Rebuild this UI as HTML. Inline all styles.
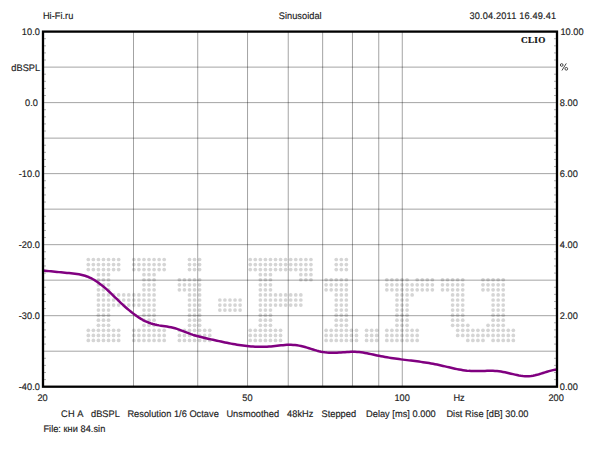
<!DOCTYPE html>
<html><head><meta charset="utf-8"><style>
html,body{margin:0;padding:0;background:#fff;width:600px;height:450px;overflow:hidden}
svg{display:block}
text{font-family:"Liberation Sans",sans-serif;font-size:9.6px;fill:#222;stroke:#222;stroke-width:0.15px}
</style></head><body>
<svg width="600" height="450" viewBox="0 0 600 450">
<rect width="600" height="450" fill="#fff"/>
<g fill="#d5d5d5"><circle cx="88.30" cy="259.50" r="1.85"/><circle cx="93.36" cy="259.50" r="1.85"/><circle cx="98.42" cy="259.50" r="1.85"/><circle cx="103.48" cy="259.50" r="1.85"/><circle cx="108.54" cy="259.50" r="1.85"/><circle cx="113.60" cy="259.50" r="1.85"/><circle cx="118.66" cy="259.50" r="1.85"/><circle cx="133.84" cy="259.50" r="1.85"/><circle cx="138.90" cy="259.50" r="1.85"/><circle cx="143.96" cy="259.50" r="1.85"/><circle cx="149.02" cy="259.50" r="1.85"/><circle cx="154.08" cy="259.50" r="1.85"/><circle cx="159.14" cy="259.50" r="1.85"/><circle cx="164.20" cy="259.50" r="1.85"/><circle cx="189.50" cy="259.50" r="1.85"/><circle cx="194.56" cy="259.50" r="1.85"/><circle cx="199.62" cy="259.50" r="1.85"/><circle cx="250.22" cy="259.50" r="1.85"/><circle cx="255.28" cy="259.50" r="1.85"/><circle cx="260.34" cy="259.50" r="1.85"/><circle cx="265.40" cy="259.50" r="1.85"/><circle cx="270.46" cy="259.50" r="1.85"/><circle cx="275.52" cy="259.50" r="1.85"/><circle cx="280.58" cy="259.50" r="1.85"/><circle cx="285.64" cy="259.50" r="1.85"/><circle cx="290.70" cy="259.50" r="1.85"/><circle cx="295.76" cy="259.50" r="1.85"/><circle cx="300.82" cy="259.50" r="1.85"/><circle cx="305.88" cy="259.50" r="1.85"/><circle cx="310.94" cy="259.50" r="1.85"/><circle cx="336.24" cy="259.50" r="1.85"/><circle cx="341.30" cy="259.50" r="1.85"/><circle cx="346.36" cy="259.50" r="1.85"/><circle cx="88.30" cy="264.56" r="1.85"/><circle cx="93.36" cy="264.56" r="1.85"/><circle cx="98.42" cy="264.56" r="1.85"/><circle cx="103.48" cy="264.56" r="1.85"/><circle cx="108.54" cy="264.56" r="1.85"/><circle cx="113.60" cy="264.56" r="1.85"/><circle cx="118.66" cy="264.56" r="1.85"/><circle cx="133.84" cy="264.56" r="1.85"/><circle cx="138.90" cy="264.56" r="1.85"/><circle cx="143.96" cy="264.56" r="1.85"/><circle cx="149.02" cy="264.56" r="1.85"/><circle cx="154.08" cy="264.56" r="1.85"/><circle cx="159.14" cy="264.56" r="1.85"/><circle cx="164.20" cy="264.56" r="1.85"/><circle cx="189.50" cy="264.56" r="1.85"/><circle cx="194.56" cy="264.56" r="1.85"/><circle cx="199.62" cy="264.56" r="1.85"/><circle cx="250.22" cy="264.56" r="1.85"/><circle cx="255.28" cy="264.56" r="1.85"/><circle cx="260.34" cy="264.56" r="1.85"/><circle cx="265.40" cy="264.56" r="1.85"/><circle cx="270.46" cy="264.56" r="1.85"/><circle cx="275.52" cy="264.56" r="1.85"/><circle cx="280.58" cy="264.56" r="1.85"/><circle cx="285.64" cy="264.56" r="1.85"/><circle cx="290.70" cy="264.56" r="1.85"/><circle cx="295.76" cy="264.56" r="1.85"/><circle cx="300.82" cy="264.56" r="1.85"/><circle cx="305.88" cy="264.56" r="1.85"/><circle cx="310.94" cy="264.56" r="1.85"/><circle cx="336.24" cy="264.56" r="1.85"/><circle cx="341.30" cy="264.56" r="1.85"/><circle cx="346.36" cy="264.56" r="1.85"/><circle cx="88.30" cy="269.62" r="1.85"/><circle cx="93.36" cy="269.62" r="1.85"/><circle cx="98.42" cy="269.62" r="1.85"/><circle cx="103.48" cy="269.62" r="1.85"/><circle cx="108.54" cy="269.62" r="1.85"/><circle cx="113.60" cy="269.62" r="1.85"/><circle cx="118.66" cy="269.62" r="1.85"/><circle cx="133.84" cy="269.62" r="1.85"/><circle cx="138.90" cy="269.62" r="1.85"/><circle cx="143.96" cy="269.62" r="1.85"/><circle cx="149.02" cy="269.62" r="1.85"/><circle cx="154.08" cy="269.62" r="1.85"/><circle cx="159.14" cy="269.62" r="1.85"/><circle cx="164.20" cy="269.62" r="1.85"/><circle cx="189.50" cy="269.62" r="1.85"/><circle cx="194.56" cy="269.62" r="1.85"/><circle cx="199.62" cy="269.62" r="1.85"/><circle cx="250.22" cy="269.62" r="1.85"/><circle cx="255.28" cy="269.62" r="1.85"/><circle cx="260.34" cy="269.62" r="1.85"/><circle cx="265.40" cy="269.62" r="1.85"/><circle cx="270.46" cy="269.62" r="1.85"/><circle cx="275.52" cy="269.62" r="1.85"/><circle cx="280.58" cy="269.62" r="1.85"/><circle cx="285.64" cy="269.62" r="1.85"/><circle cx="290.70" cy="269.62" r="1.85"/><circle cx="295.76" cy="269.62" r="1.85"/><circle cx="300.82" cy="269.62" r="1.85"/><circle cx="305.88" cy="269.62" r="1.85"/><circle cx="310.94" cy="269.62" r="1.85"/><circle cx="336.24" cy="269.62" r="1.85"/><circle cx="341.30" cy="269.62" r="1.85"/><circle cx="346.36" cy="269.62" r="1.85"/><circle cx="98.42" cy="274.68" r="1.85"/><circle cx="103.48" cy="274.68" r="1.85"/><circle cx="108.54" cy="274.68" r="1.85"/><circle cx="143.96" cy="274.68" r="1.85"/><circle cx="149.02" cy="274.68" r="1.85"/><circle cx="154.08" cy="274.68" r="1.85"/><circle cx="260.34" cy="274.68" r="1.85"/><circle cx="265.40" cy="274.68" r="1.85"/><circle cx="270.46" cy="274.68" r="1.85"/><circle cx="300.82" cy="274.68" r="1.85"/><circle cx="305.88" cy="274.68" r="1.85"/><circle cx="310.94" cy="274.68" r="1.85"/><circle cx="98.42" cy="279.74" r="1.85"/><circle cx="103.48" cy="279.74" r="1.85"/><circle cx="108.54" cy="279.74" r="1.85"/><circle cx="143.96" cy="279.74" r="1.85"/><circle cx="149.02" cy="279.74" r="1.85"/><circle cx="154.08" cy="279.74" r="1.85"/><circle cx="179.38" cy="279.74" r="1.85"/><circle cx="184.44" cy="279.74" r="1.85"/><circle cx="189.50" cy="279.74" r="1.85"/><circle cx="194.56" cy="279.74" r="1.85"/><circle cx="199.62" cy="279.74" r="1.85"/><circle cx="260.34" cy="279.74" r="1.85"/><circle cx="265.40" cy="279.74" r="1.85"/><circle cx="270.46" cy="279.74" r="1.85"/><circle cx="300.82" cy="279.74" r="1.85"/><circle cx="305.88" cy="279.74" r="1.85"/><circle cx="310.94" cy="279.74" r="1.85"/><circle cx="326.12" cy="279.74" r="1.85"/><circle cx="331.18" cy="279.74" r="1.85"/><circle cx="336.24" cy="279.74" r="1.85"/><circle cx="341.30" cy="279.74" r="1.85"/><circle cx="346.36" cy="279.74" r="1.85"/><circle cx="386.84" cy="279.74" r="1.85"/><circle cx="391.90" cy="279.74" r="1.85"/><circle cx="396.96" cy="279.74" r="1.85"/><circle cx="402.02" cy="279.74" r="1.85"/><circle cx="407.08" cy="279.74" r="1.85"/><circle cx="417.20" cy="279.74" r="1.85"/><circle cx="422.26" cy="279.74" r="1.85"/><circle cx="427.32" cy="279.74" r="1.85"/><circle cx="432.38" cy="279.74" r="1.85"/><circle cx="442.50" cy="279.74" r="1.85"/><circle cx="447.56" cy="279.74" r="1.85"/><circle cx="452.62" cy="279.74" r="1.85"/><circle cx="457.68" cy="279.74" r="1.85"/><circle cx="462.74" cy="279.74" r="1.85"/><circle cx="482.98" cy="279.74" r="1.85"/><circle cx="488.04" cy="279.74" r="1.85"/><circle cx="493.10" cy="279.74" r="1.85"/><circle cx="498.16" cy="279.74" r="1.85"/><circle cx="503.22" cy="279.74" r="1.85"/><circle cx="98.42" cy="284.80" r="1.85"/><circle cx="103.48" cy="284.80" r="1.85"/><circle cx="108.54" cy="284.80" r="1.85"/><circle cx="143.96" cy="284.80" r="1.85"/><circle cx="149.02" cy="284.80" r="1.85"/><circle cx="154.08" cy="284.80" r="1.85"/><circle cx="179.38" cy="284.80" r="1.85"/><circle cx="184.44" cy="284.80" r="1.85"/><circle cx="189.50" cy="284.80" r="1.85"/><circle cx="194.56" cy="284.80" r="1.85"/><circle cx="199.62" cy="284.80" r="1.85"/><circle cx="260.34" cy="284.80" r="1.85"/><circle cx="265.40" cy="284.80" r="1.85"/><circle cx="270.46" cy="284.80" r="1.85"/><circle cx="326.12" cy="284.80" r="1.85"/><circle cx="331.18" cy="284.80" r="1.85"/><circle cx="336.24" cy="284.80" r="1.85"/><circle cx="341.30" cy="284.80" r="1.85"/><circle cx="346.36" cy="284.80" r="1.85"/><circle cx="386.84" cy="284.80" r="1.85"/><circle cx="391.90" cy="284.80" r="1.85"/><circle cx="396.96" cy="284.80" r="1.85"/><circle cx="402.02" cy="284.80" r="1.85"/><circle cx="407.08" cy="284.80" r="1.85"/><circle cx="412.14" cy="284.80" r="1.85"/><circle cx="417.20" cy="284.80" r="1.85"/><circle cx="422.26" cy="284.80" r="1.85"/><circle cx="427.32" cy="284.80" r="1.85"/><circle cx="432.38" cy="284.80" r="1.85"/><circle cx="442.50" cy="284.80" r="1.85"/><circle cx="447.56" cy="284.80" r="1.85"/><circle cx="452.62" cy="284.80" r="1.85"/><circle cx="457.68" cy="284.80" r="1.85"/><circle cx="462.74" cy="284.80" r="1.85"/><circle cx="482.98" cy="284.80" r="1.85"/><circle cx="488.04" cy="284.80" r="1.85"/><circle cx="493.10" cy="284.80" r="1.85"/><circle cx="498.16" cy="284.80" r="1.85"/><circle cx="503.22" cy="284.80" r="1.85"/><circle cx="98.42" cy="289.86" r="1.85"/><circle cx="103.48" cy="289.86" r="1.85"/><circle cx="108.54" cy="289.86" r="1.85"/><circle cx="143.96" cy="289.86" r="1.85"/><circle cx="149.02" cy="289.86" r="1.85"/><circle cx="154.08" cy="289.86" r="1.85"/><circle cx="179.38" cy="289.86" r="1.85"/><circle cx="184.44" cy="289.86" r="1.85"/><circle cx="189.50" cy="289.86" r="1.85"/><circle cx="194.56" cy="289.86" r="1.85"/><circle cx="199.62" cy="289.86" r="1.85"/><circle cx="260.34" cy="289.86" r="1.85"/><circle cx="265.40" cy="289.86" r="1.85"/><circle cx="270.46" cy="289.86" r="1.85"/><circle cx="326.12" cy="289.86" r="1.85"/><circle cx="331.18" cy="289.86" r="1.85"/><circle cx="336.24" cy="289.86" r="1.85"/><circle cx="341.30" cy="289.86" r="1.85"/><circle cx="346.36" cy="289.86" r="1.85"/><circle cx="386.84" cy="289.86" r="1.85"/><circle cx="391.90" cy="289.86" r="1.85"/><circle cx="396.96" cy="289.86" r="1.85"/><circle cx="402.02" cy="289.86" r="1.85"/><circle cx="407.08" cy="289.86" r="1.85"/><circle cx="412.14" cy="289.86" r="1.85"/><circle cx="417.20" cy="289.86" r="1.85"/><circle cx="422.26" cy="289.86" r="1.85"/><circle cx="427.32" cy="289.86" r="1.85"/><circle cx="432.38" cy="289.86" r="1.85"/><circle cx="442.50" cy="289.86" r="1.85"/><circle cx="447.56" cy="289.86" r="1.85"/><circle cx="452.62" cy="289.86" r="1.85"/><circle cx="457.68" cy="289.86" r="1.85"/><circle cx="462.74" cy="289.86" r="1.85"/><circle cx="482.98" cy="289.86" r="1.85"/><circle cx="488.04" cy="289.86" r="1.85"/><circle cx="493.10" cy="289.86" r="1.85"/><circle cx="498.16" cy="289.86" r="1.85"/><circle cx="503.22" cy="289.86" r="1.85"/><circle cx="98.42" cy="294.92" r="1.85"/><circle cx="103.48" cy="294.92" r="1.85"/><circle cx="108.54" cy="294.92" r="1.85"/><circle cx="113.60" cy="294.92" r="1.85"/><circle cx="118.66" cy="294.92" r="1.85"/><circle cx="123.72" cy="294.92" r="1.85"/><circle cx="128.78" cy="294.92" r="1.85"/><circle cx="133.84" cy="294.92" r="1.85"/><circle cx="138.90" cy="294.92" r="1.85"/><circle cx="143.96" cy="294.92" r="1.85"/><circle cx="149.02" cy="294.92" r="1.85"/><circle cx="154.08" cy="294.92" r="1.85"/><circle cx="189.50" cy="294.92" r="1.85"/><circle cx="194.56" cy="294.92" r="1.85"/><circle cx="199.62" cy="294.92" r="1.85"/><circle cx="260.34" cy="294.92" r="1.85"/><circle cx="265.40" cy="294.92" r="1.85"/><circle cx="270.46" cy="294.92" r="1.85"/><circle cx="275.52" cy="294.92" r="1.85"/><circle cx="280.58" cy="294.92" r="1.85"/><circle cx="285.64" cy="294.92" r="1.85"/><circle cx="290.70" cy="294.92" r="1.85"/><circle cx="295.76" cy="294.92" r="1.85"/><circle cx="300.82" cy="294.92" r="1.85"/><circle cx="336.24" cy="294.92" r="1.85"/><circle cx="341.30" cy="294.92" r="1.85"/><circle cx="346.36" cy="294.92" r="1.85"/><circle cx="396.96" cy="294.92" r="1.85"/><circle cx="402.02" cy="294.92" r="1.85"/><circle cx="407.08" cy="294.92" r="1.85"/><circle cx="412.14" cy="294.92" r="1.85"/><circle cx="452.62" cy="294.92" r="1.85"/><circle cx="457.68" cy="294.92" r="1.85"/><circle cx="462.74" cy="294.92" r="1.85"/><circle cx="493.10" cy="294.92" r="1.85"/><circle cx="498.16" cy="294.92" r="1.85"/><circle cx="503.22" cy="294.92" r="1.85"/><circle cx="98.42" cy="299.98" r="1.85"/><circle cx="103.48" cy="299.98" r="1.85"/><circle cx="108.54" cy="299.98" r="1.85"/><circle cx="113.60" cy="299.98" r="1.85"/><circle cx="118.66" cy="299.98" r="1.85"/><circle cx="123.72" cy="299.98" r="1.85"/><circle cx="128.78" cy="299.98" r="1.85"/><circle cx="133.84" cy="299.98" r="1.85"/><circle cx="138.90" cy="299.98" r="1.85"/><circle cx="143.96" cy="299.98" r="1.85"/><circle cx="149.02" cy="299.98" r="1.85"/><circle cx="154.08" cy="299.98" r="1.85"/><circle cx="189.50" cy="299.98" r="1.85"/><circle cx="194.56" cy="299.98" r="1.85"/><circle cx="199.62" cy="299.98" r="1.85"/><circle cx="219.86" cy="299.98" r="1.85"/><circle cx="224.92" cy="299.98" r="1.85"/><circle cx="229.98" cy="299.98" r="1.85"/><circle cx="235.04" cy="299.98" r="1.85"/><circle cx="240.10" cy="299.98" r="1.85"/><circle cx="260.34" cy="299.98" r="1.85"/><circle cx="265.40" cy="299.98" r="1.85"/><circle cx="270.46" cy="299.98" r="1.85"/><circle cx="275.52" cy="299.98" r="1.85"/><circle cx="280.58" cy="299.98" r="1.85"/><circle cx="285.64" cy="299.98" r="1.85"/><circle cx="290.70" cy="299.98" r="1.85"/><circle cx="295.76" cy="299.98" r="1.85"/><circle cx="300.82" cy="299.98" r="1.85"/><circle cx="336.24" cy="299.98" r="1.85"/><circle cx="341.30" cy="299.98" r="1.85"/><circle cx="346.36" cy="299.98" r="1.85"/><circle cx="396.96" cy="299.98" r="1.85"/><circle cx="402.02" cy="299.98" r="1.85"/><circle cx="407.08" cy="299.98" r="1.85"/><circle cx="452.62" cy="299.98" r="1.85"/><circle cx="457.68" cy="299.98" r="1.85"/><circle cx="462.74" cy="299.98" r="1.85"/><circle cx="493.10" cy="299.98" r="1.85"/><circle cx="498.16" cy="299.98" r="1.85"/><circle cx="503.22" cy="299.98" r="1.85"/><circle cx="98.42" cy="305.04" r="1.85"/><circle cx="103.48" cy="305.04" r="1.85"/><circle cx="108.54" cy="305.04" r="1.85"/><circle cx="113.60" cy="305.04" r="1.85"/><circle cx="118.66" cy="305.04" r="1.85"/><circle cx="123.72" cy="305.04" r="1.85"/><circle cx="128.78" cy="305.04" r="1.85"/><circle cx="133.84" cy="305.04" r="1.85"/><circle cx="138.90" cy="305.04" r="1.85"/><circle cx="143.96" cy="305.04" r="1.85"/><circle cx="149.02" cy="305.04" r="1.85"/><circle cx="154.08" cy="305.04" r="1.85"/><circle cx="189.50" cy="305.04" r="1.85"/><circle cx="194.56" cy="305.04" r="1.85"/><circle cx="199.62" cy="305.04" r="1.85"/><circle cx="219.86" cy="305.04" r="1.85"/><circle cx="224.92" cy="305.04" r="1.85"/><circle cx="229.98" cy="305.04" r="1.85"/><circle cx="235.04" cy="305.04" r="1.85"/><circle cx="240.10" cy="305.04" r="1.85"/><circle cx="260.34" cy="305.04" r="1.85"/><circle cx="265.40" cy="305.04" r="1.85"/><circle cx="270.46" cy="305.04" r="1.85"/><circle cx="275.52" cy="305.04" r="1.85"/><circle cx="280.58" cy="305.04" r="1.85"/><circle cx="285.64" cy="305.04" r="1.85"/><circle cx="290.70" cy="305.04" r="1.85"/><circle cx="295.76" cy="305.04" r="1.85"/><circle cx="300.82" cy="305.04" r="1.85"/><circle cx="336.24" cy="305.04" r="1.85"/><circle cx="341.30" cy="305.04" r="1.85"/><circle cx="346.36" cy="305.04" r="1.85"/><circle cx="396.96" cy="305.04" r="1.85"/><circle cx="402.02" cy="305.04" r="1.85"/><circle cx="407.08" cy="305.04" r="1.85"/><circle cx="452.62" cy="305.04" r="1.85"/><circle cx="457.68" cy="305.04" r="1.85"/><circle cx="462.74" cy="305.04" r="1.85"/><circle cx="493.10" cy="305.04" r="1.85"/><circle cx="498.16" cy="305.04" r="1.85"/><circle cx="503.22" cy="305.04" r="1.85"/><circle cx="98.42" cy="310.10" r="1.85"/><circle cx="103.48" cy="310.10" r="1.85"/><circle cx="108.54" cy="310.10" r="1.85"/><circle cx="143.96" cy="310.10" r="1.85"/><circle cx="149.02" cy="310.10" r="1.85"/><circle cx="154.08" cy="310.10" r="1.85"/><circle cx="189.50" cy="310.10" r="1.85"/><circle cx="194.56" cy="310.10" r="1.85"/><circle cx="199.62" cy="310.10" r="1.85"/><circle cx="219.86" cy="310.10" r="1.85"/><circle cx="224.92" cy="310.10" r="1.85"/><circle cx="229.98" cy="310.10" r="1.85"/><circle cx="235.04" cy="310.10" r="1.85"/><circle cx="240.10" cy="310.10" r="1.85"/><circle cx="260.34" cy="310.10" r="1.85"/><circle cx="265.40" cy="310.10" r="1.85"/><circle cx="270.46" cy="310.10" r="1.85"/><circle cx="336.24" cy="310.10" r="1.85"/><circle cx="341.30" cy="310.10" r="1.85"/><circle cx="346.36" cy="310.10" r="1.85"/><circle cx="396.96" cy="310.10" r="1.85"/><circle cx="402.02" cy="310.10" r="1.85"/><circle cx="407.08" cy="310.10" r="1.85"/><circle cx="452.62" cy="310.10" r="1.85"/><circle cx="457.68" cy="310.10" r="1.85"/><circle cx="462.74" cy="310.10" r="1.85"/><circle cx="493.10" cy="310.10" r="1.85"/><circle cx="498.16" cy="310.10" r="1.85"/><circle cx="503.22" cy="310.10" r="1.85"/><circle cx="98.42" cy="315.16" r="1.85"/><circle cx="103.48" cy="315.16" r="1.85"/><circle cx="108.54" cy="315.16" r="1.85"/><circle cx="143.96" cy="315.16" r="1.85"/><circle cx="149.02" cy="315.16" r="1.85"/><circle cx="154.08" cy="315.16" r="1.85"/><circle cx="189.50" cy="315.16" r="1.85"/><circle cx="194.56" cy="315.16" r="1.85"/><circle cx="199.62" cy="315.16" r="1.85"/><circle cx="260.34" cy="315.16" r="1.85"/><circle cx="265.40" cy="315.16" r="1.85"/><circle cx="270.46" cy="315.16" r="1.85"/><circle cx="336.24" cy="315.16" r="1.85"/><circle cx="341.30" cy="315.16" r="1.85"/><circle cx="346.36" cy="315.16" r="1.85"/><circle cx="396.96" cy="315.16" r="1.85"/><circle cx="402.02" cy="315.16" r="1.85"/><circle cx="407.08" cy="315.16" r="1.85"/><circle cx="452.62" cy="315.16" r="1.85"/><circle cx="457.68" cy="315.16" r="1.85"/><circle cx="462.74" cy="315.16" r="1.85"/><circle cx="493.10" cy="315.16" r="1.85"/><circle cx="498.16" cy="315.16" r="1.85"/><circle cx="503.22" cy="315.16" r="1.85"/><circle cx="98.42" cy="320.22" r="1.85"/><circle cx="103.48" cy="320.22" r="1.85"/><circle cx="108.54" cy="320.22" r="1.85"/><circle cx="143.96" cy="320.22" r="1.85"/><circle cx="149.02" cy="320.22" r="1.85"/><circle cx="154.08" cy="320.22" r="1.85"/><circle cx="189.50" cy="320.22" r="1.85"/><circle cx="194.56" cy="320.22" r="1.85"/><circle cx="199.62" cy="320.22" r="1.85"/><circle cx="260.34" cy="320.22" r="1.85"/><circle cx="265.40" cy="320.22" r="1.85"/><circle cx="270.46" cy="320.22" r="1.85"/><circle cx="336.24" cy="320.22" r="1.85"/><circle cx="341.30" cy="320.22" r="1.85"/><circle cx="346.36" cy="320.22" r="1.85"/><circle cx="396.96" cy="320.22" r="1.85"/><circle cx="402.02" cy="320.22" r="1.85"/><circle cx="407.08" cy="320.22" r="1.85"/><circle cx="452.62" cy="320.22" r="1.85"/><circle cx="457.68" cy="320.22" r="1.85"/><circle cx="462.74" cy="320.22" r="1.85"/><circle cx="493.10" cy="320.22" r="1.85"/><circle cx="498.16" cy="320.22" r="1.85"/><circle cx="503.22" cy="320.22" r="1.85"/><circle cx="98.42" cy="325.28" r="1.85"/><circle cx="103.48" cy="325.28" r="1.85"/><circle cx="108.54" cy="325.28" r="1.85"/><circle cx="143.96" cy="325.28" r="1.85"/><circle cx="149.02" cy="325.28" r="1.85"/><circle cx="154.08" cy="325.28" r="1.85"/><circle cx="189.50" cy="325.28" r="1.85"/><circle cx="194.56" cy="325.28" r="1.85"/><circle cx="199.62" cy="325.28" r="1.85"/><circle cx="260.34" cy="325.28" r="1.85"/><circle cx="265.40" cy="325.28" r="1.85"/><circle cx="270.46" cy="325.28" r="1.85"/><circle cx="336.24" cy="325.28" r="1.85"/><circle cx="341.30" cy="325.28" r="1.85"/><circle cx="346.36" cy="325.28" r="1.85"/><circle cx="396.96" cy="325.28" r="1.85"/><circle cx="402.02" cy="325.28" r="1.85"/><circle cx="407.08" cy="325.28" r="1.85"/><circle cx="452.62" cy="325.28" r="1.85"/><circle cx="457.68" cy="325.28" r="1.85"/><circle cx="462.74" cy="325.28" r="1.85"/><circle cx="467.80" cy="325.28" r="1.85"/><circle cx="488.04" cy="325.28" r="1.85"/><circle cx="493.10" cy="325.28" r="1.85"/><circle cx="498.16" cy="325.28" r="1.85"/><circle cx="503.22" cy="325.28" r="1.85"/><circle cx="88.30" cy="330.34" r="1.85"/><circle cx="93.36" cy="330.34" r="1.85"/><circle cx="98.42" cy="330.34" r="1.85"/><circle cx="103.48" cy="330.34" r="1.85"/><circle cx="108.54" cy="330.34" r="1.85"/><circle cx="113.60" cy="330.34" r="1.85"/><circle cx="118.66" cy="330.34" r="1.85"/><circle cx="133.84" cy="330.34" r="1.85"/><circle cx="138.90" cy="330.34" r="1.85"/><circle cx="143.96" cy="330.34" r="1.85"/><circle cx="149.02" cy="330.34" r="1.85"/><circle cx="154.08" cy="330.34" r="1.85"/><circle cx="159.14" cy="330.34" r="1.85"/><circle cx="164.20" cy="330.34" r="1.85"/><circle cx="179.38" cy="330.34" r="1.85"/><circle cx="184.44" cy="330.34" r="1.85"/><circle cx="189.50" cy="330.34" r="1.85"/><circle cx="194.56" cy="330.34" r="1.85"/><circle cx="199.62" cy="330.34" r="1.85"/><circle cx="204.68" cy="330.34" r="1.85"/><circle cx="209.74" cy="330.34" r="1.85"/><circle cx="250.22" cy="330.34" r="1.85"/><circle cx="255.28" cy="330.34" r="1.85"/><circle cx="260.34" cy="330.34" r="1.85"/><circle cx="265.40" cy="330.34" r="1.85"/><circle cx="270.46" cy="330.34" r="1.85"/><circle cx="275.52" cy="330.34" r="1.85"/><circle cx="280.58" cy="330.34" r="1.85"/><circle cx="326.12" cy="330.34" r="1.85"/><circle cx="331.18" cy="330.34" r="1.85"/><circle cx="336.24" cy="330.34" r="1.85"/><circle cx="341.30" cy="330.34" r="1.85"/><circle cx="346.36" cy="330.34" r="1.85"/><circle cx="351.42" cy="330.34" r="1.85"/><circle cx="356.48" cy="330.34" r="1.85"/><circle cx="366.60" cy="330.34" r="1.85"/><circle cx="371.66" cy="330.34" r="1.85"/><circle cx="376.72" cy="330.34" r="1.85"/><circle cx="386.84" cy="330.34" r="1.85"/><circle cx="391.90" cy="330.34" r="1.85"/><circle cx="396.96" cy="330.34" r="1.85"/><circle cx="402.02" cy="330.34" r="1.85"/><circle cx="407.08" cy="330.34" r="1.85"/><circle cx="412.14" cy="330.34" r="1.85"/><circle cx="417.20" cy="330.34" r="1.85"/><circle cx="457.68" cy="330.34" r="1.85"/><circle cx="462.74" cy="330.34" r="1.85"/><circle cx="467.80" cy="330.34" r="1.85"/><circle cx="472.86" cy="330.34" r="1.85"/><circle cx="477.92" cy="330.34" r="1.85"/><circle cx="482.98" cy="330.34" r="1.85"/><circle cx="488.04" cy="330.34" r="1.85"/><circle cx="493.10" cy="330.34" r="1.85"/><circle cx="498.16" cy="330.34" r="1.85"/><circle cx="503.22" cy="330.34" r="1.85"/><circle cx="508.28" cy="330.34" r="1.85"/><circle cx="513.34" cy="330.34" r="1.85"/><circle cx="88.30" cy="335.40" r="1.85"/><circle cx="93.36" cy="335.40" r="1.85"/><circle cx="98.42" cy="335.40" r="1.85"/><circle cx="103.48" cy="335.40" r="1.85"/><circle cx="108.54" cy="335.40" r="1.85"/><circle cx="113.60" cy="335.40" r="1.85"/><circle cx="118.66" cy="335.40" r="1.85"/><circle cx="133.84" cy="335.40" r="1.85"/><circle cx="138.90" cy="335.40" r="1.85"/><circle cx="143.96" cy="335.40" r="1.85"/><circle cx="149.02" cy="335.40" r="1.85"/><circle cx="154.08" cy="335.40" r="1.85"/><circle cx="159.14" cy="335.40" r="1.85"/><circle cx="164.20" cy="335.40" r="1.85"/><circle cx="179.38" cy="335.40" r="1.85"/><circle cx="184.44" cy="335.40" r="1.85"/><circle cx="189.50" cy="335.40" r="1.85"/><circle cx="194.56" cy="335.40" r="1.85"/><circle cx="199.62" cy="335.40" r="1.85"/><circle cx="204.68" cy="335.40" r="1.85"/><circle cx="209.74" cy="335.40" r="1.85"/><circle cx="250.22" cy="335.40" r="1.85"/><circle cx="255.28" cy="335.40" r="1.85"/><circle cx="260.34" cy="335.40" r="1.85"/><circle cx="265.40" cy="335.40" r="1.85"/><circle cx="270.46" cy="335.40" r="1.85"/><circle cx="275.52" cy="335.40" r="1.85"/><circle cx="280.58" cy="335.40" r="1.85"/><circle cx="326.12" cy="335.40" r="1.85"/><circle cx="331.18" cy="335.40" r="1.85"/><circle cx="336.24" cy="335.40" r="1.85"/><circle cx="341.30" cy="335.40" r="1.85"/><circle cx="346.36" cy="335.40" r="1.85"/><circle cx="351.42" cy="335.40" r="1.85"/><circle cx="356.48" cy="335.40" r="1.85"/><circle cx="366.60" cy="335.40" r="1.85"/><circle cx="371.66" cy="335.40" r="1.85"/><circle cx="376.72" cy="335.40" r="1.85"/><circle cx="386.84" cy="335.40" r="1.85"/><circle cx="391.90" cy="335.40" r="1.85"/><circle cx="396.96" cy="335.40" r="1.85"/><circle cx="402.02" cy="335.40" r="1.85"/><circle cx="407.08" cy="335.40" r="1.85"/><circle cx="412.14" cy="335.40" r="1.85"/><circle cx="417.20" cy="335.40" r="1.85"/><circle cx="457.68" cy="335.40" r="1.85"/><circle cx="462.74" cy="335.40" r="1.85"/><circle cx="467.80" cy="335.40" r="1.85"/><circle cx="472.86" cy="335.40" r="1.85"/><circle cx="477.92" cy="335.40" r="1.85"/><circle cx="482.98" cy="335.40" r="1.85"/><circle cx="488.04" cy="335.40" r="1.85"/><circle cx="493.10" cy="335.40" r="1.85"/><circle cx="498.16" cy="335.40" r="1.85"/><circle cx="503.22" cy="335.40" r="1.85"/><circle cx="508.28" cy="335.40" r="1.85"/><circle cx="513.34" cy="335.40" r="1.85"/><circle cx="88.30" cy="340.46" r="1.85"/><circle cx="93.36" cy="340.46" r="1.85"/><circle cx="98.42" cy="340.46" r="1.85"/><circle cx="103.48" cy="340.46" r="1.85"/><circle cx="108.54" cy="340.46" r="1.85"/><circle cx="113.60" cy="340.46" r="1.85"/><circle cx="118.66" cy="340.46" r="1.85"/><circle cx="133.84" cy="340.46" r="1.85"/><circle cx="138.90" cy="340.46" r="1.85"/><circle cx="143.96" cy="340.46" r="1.85"/><circle cx="149.02" cy="340.46" r="1.85"/><circle cx="154.08" cy="340.46" r="1.85"/><circle cx="159.14" cy="340.46" r="1.85"/><circle cx="164.20" cy="340.46" r="1.85"/><circle cx="179.38" cy="340.46" r="1.85"/><circle cx="184.44" cy="340.46" r="1.85"/><circle cx="189.50" cy="340.46" r="1.85"/><circle cx="194.56" cy="340.46" r="1.85"/><circle cx="199.62" cy="340.46" r="1.85"/><circle cx="204.68" cy="340.46" r="1.85"/><circle cx="209.74" cy="340.46" r="1.85"/><circle cx="250.22" cy="340.46" r="1.85"/><circle cx="255.28" cy="340.46" r="1.85"/><circle cx="260.34" cy="340.46" r="1.85"/><circle cx="265.40" cy="340.46" r="1.85"/><circle cx="270.46" cy="340.46" r="1.85"/><circle cx="275.52" cy="340.46" r="1.85"/><circle cx="280.58" cy="340.46" r="1.85"/><circle cx="326.12" cy="340.46" r="1.85"/><circle cx="331.18" cy="340.46" r="1.85"/><circle cx="336.24" cy="340.46" r="1.85"/><circle cx="341.30" cy="340.46" r="1.85"/><circle cx="346.36" cy="340.46" r="1.85"/><circle cx="351.42" cy="340.46" r="1.85"/><circle cx="356.48" cy="340.46" r="1.85"/><circle cx="366.60" cy="340.46" r="1.85"/><circle cx="371.66" cy="340.46" r="1.85"/><circle cx="376.72" cy="340.46" r="1.85"/><circle cx="386.84" cy="340.46" r="1.85"/><circle cx="391.90" cy="340.46" r="1.85"/><circle cx="396.96" cy="340.46" r="1.85"/><circle cx="402.02" cy="340.46" r="1.85"/><circle cx="407.08" cy="340.46" r="1.85"/><circle cx="412.14" cy="340.46" r="1.85"/><circle cx="417.20" cy="340.46" r="1.85"/><circle cx="467.80" cy="340.46" r="1.85"/><circle cx="472.86" cy="340.46" r="1.85"/><circle cx="477.92" cy="340.46" r="1.85"/><circle cx="482.98" cy="340.46" r="1.85"/><circle cx="493.10" cy="340.46" r="1.85"/><circle cx="498.16" cy="340.46" r="1.85"/><circle cx="503.22" cy="340.46" r="1.85"/><circle cx="508.28" cy="340.46" r="1.85"/><circle cx="513.34" cy="340.46" r="1.85"/></g>
<g stroke="#000" stroke-opacity="0.36" stroke-width="1" fill="none"><path d="M133.51 31.6V386.7M197.73 31.6V386.7M247.54 31.6V386.7M288.24 31.6V386.7M322.65 31.6V386.7M352.46 31.6V386.7M378.75 31.6V386.7M402.27 31.6V386.7"/><path d="M43.0 67.11H557.0M43.0 102.62H557.0M43.0 138.13H557.0M43.0 173.64H557.0M43.0 209.15H557.0M43.0 244.66H557.0M43.0 280.17H557.0M43.0 315.68H557.0M43.0 351.19H557.0"/></g>
<path d="M44 38.70h2M556 38.70h-2M44 45.80h2M556 45.80h-2M44 52.91h2M556 52.91h-2M44 60.01h2M556 60.01h-2M44 74.21h2M556 74.21h-2M44 81.31h2M556 81.31h-2M44 88.42h2M556 88.42h-2M44 95.52h2M556 95.52h-2M44 109.72h2M556 109.72h-2M44 116.82h2M556 116.82h-2M44 123.93h2M556 123.93h-2M44 131.03h2M556 131.03h-2M44 145.23h2M556 145.23h-2M44 152.33h2M556 152.33h-2M44 159.44h2M556 159.44h-2M44 166.54h2M556 166.54h-2M44 180.74h2M556 180.74h-2M44 187.84h2M556 187.84h-2M44 194.95h2M556 194.95h-2M44 202.05h2M556 202.05h-2M44 216.25h2M556 216.25h-2M44 223.35h2M556 223.35h-2M44 230.46h2M556 230.46h-2M44 237.56h2M556 237.56h-2M44 251.76h2M556 251.76h-2M44 258.86h2M556 258.86h-2M44 265.97h2M556 265.97h-2M44 273.07h2M556 273.07h-2M44 287.27h2M556 287.27h-2M44 294.37h2M556 294.37h-2M44 301.48h2M556 301.48h-2M44 308.58h2M556 308.58h-2M44 322.78h2M556 322.78h-2M44 329.88h2M556 329.88h-2M44 336.99h2M556 336.99h-2M44 344.09h2M556 344.09h-2M44 358.29h2M556 358.29h-2M44 365.39h2M556 365.39h-2M44 372.50h2M556 372.50h-2M44 379.60h2M556 379.60h-2" stroke="#b0b0b0" stroke-width="1" fill="none"/>
<path d="M43.0,270.50 45.0,270.70 47.0,270.91 49.0,271.12 51.0,271.32 53.0,271.52 55.0,271.72 57.0,271.92 59.0,272.12 61.0,272.32 63.0,272.51 65.0,272.71 67.0,272.91 69.0,273.11 71.0,273.31 73.0,273.52 75.0,273.75 77.0,274.03 79.0,274.35 81.0,274.74 83.0,275.21 85.0,275.78 87.0,276.46 89.0,277.27 91.0,278.21 93.0,279.27 95.0,280.45 97.0,281.75 99.0,283.14 101.0,284.64 103.0,286.23 105.0,287.91 107.0,289.67 109.0,291.50 111.0,293.39 113.0,295.32 115.0,297.27 117.0,299.23 119.0,301.17 121.0,303.07 123.0,304.92 125.0,306.72 127.0,308.46 129.0,310.15 131.0,311.79 133.0,313.36 135.0,314.86 137.0,316.29 139.0,317.64 141.0,318.88 143.0,320.02 145.0,321.04 147.0,321.94 149.0,322.74 151.0,323.43 153.0,324.03 155.0,324.54 157.0,324.98 159.0,325.36 161.0,325.69 163.0,325.99 165.0,326.29 167.0,326.60 169.0,326.93 171.0,327.30 173.0,327.74 175.0,328.26 177.0,328.87 179.0,329.56 181.0,330.31 183.0,331.09 185.0,331.88 187.0,332.67 189.0,333.44 191.0,334.16 193.0,334.83 195.0,335.44 197.0,336.02 199.0,336.56 201.0,337.07 203.0,337.56 205.0,338.02 207.0,338.48 209.0,338.92 211.0,339.37 213.0,339.82 215.0,340.26 217.0,340.71 219.0,341.15 221.0,341.58 223.0,342.01 225.0,342.43 227.0,342.84 229.0,343.24 231.0,343.62 233.0,343.99 235.0,344.35 237.0,344.68 239.0,345.00 241.0,345.29 243.0,345.56 245.0,345.81 247.0,346.03 249.0,346.22 251.0,346.39 253.0,346.53 255.0,346.65 257.0,346.73 259.0,346.78 261.0,346.80 263.0,346.79 265.0,346.74 267.0,346.66 269.0,346.54 271.0,346.38 273.0,346.20 275.0,345.99 277.0,345.77 279.0,345.55 281.0,345.34 283.0,345.15 285.0,344.99 287.0,344.87 289.0,344.81 291.0,344.81 293.0,344.88 295.0,345.04 297.0,345.29 299.0,345.63 301.0,346.03 303.0,346.51 305.0,347.03 307.0,347.60 309.0,348.20 311.0,348.83 313.0,349.46 315.0,350.08 317.0,350.67 319.0,351.21 321.0,351.66 323.0,352.04 325.0,352.34 327.0,352.56 329.0,352.70 331.0,352.78 333.0,352.79 335.0,352.74 337.0,352.66 339.0,352.54 341.0,352.41 343.0,352.27 345.0,352.14 347.0,352.02 349.0,351.93 351.0,351.87 353.0,351.84 355.0,351.87 357.0,351.95 359.0,352.09 361.0,352.31 363.0,352.59 365.0,352.92 367.0,353.31 369.0,353.72 371.0,354.15 373.0,354.59 375.0,355.02 377.0,355.44 379.0,355.84 381.0,356.23 383.0,356.60 385.0,356.95 387.0,357.30 389.0,357.63 391.0,357.94 393.0,358.25 395.0,358.54 397.0,358.83 399.0,359.10 401.0,359.37 403.0,359.63 405.0,359.88 407.0,360.13 409.0,360.37 411.0,360.61 413.0,360.86 415.0,361.10 417.0,361.35 419.0,361.60 421.0,361.87 423.0,362.14 425.0,362.43 427.0,362.73 429.0,363.06 431.0,363.40 433.0,363.76 435.0,364.15 437.0,364.57 439.0,365.00 441.0,365.45 443.0,365.92 445.0,366.39 447.0,366.87 449.0,367.34 451.0,367.80 453.0,368.26 455.0,368.69 457.0,369.11 459.0,369.49 461.0,369.85 463.0,370.17 465.0,370.45 467.0,370.69 469.0,370.87 471.0,371.00 473.0,371.07 475.0,371.10 477.0,371.10 479.0,371.07 481.0,371.02 483.0,370.97 485.0,370.91 487.0,370.87 489.0,370.84 491.0,370.84 493.0,370.87 495.0,370.96 497.0,371.09 499.0,371.29 501.0,371.56 503.0,371.90 505.0,372.30 507.0,372.73 509.0,373.20 511.0,373.67 513.0,374.15 515.0,374.61 517.0,375.04 519.0,375.43 521.0,375.75 523.0,376.01 525.0,376.18 527.0,376.25 529.0,376.20 531.0,376.03 533.0,375.73 535.0,375.32 537.0,374.83 539.0,374.27 541.0,373.66 543.0,373.03 545.0,372.39 547.0,371.76 549.0,371.16 551.0,370.61 553.0,370.14 555.0,369.75 557.0,369.48" stroke="#800080" stroke-width="2.5" fill="none" stroke-linejoin="round" stroke-linecap="butt"/>
<rect x="43.0" y="31.6" width="514.0" height="355.10" fill="none" stroke="#000" stroke-width="2.3"/>
<text transform="translate(42.90,19.20) scale(0.97,1) skewX(0.5)">Hi-Fi.ru</text>
<text transform="translate(278.74,19.20) scale(0.97,1) skewX(0.5)">Sinusoidal</text>
<text transform="translate(469.40,19.20) scale(0.97,1) skewX(0.5)" letter-spacing="0.13">30.04.2011 16.49.41</text>
<text transform="translate(21.80,35.10) scale(0.97,1) skewX(0.5)">10.0</text>
<text transform="translate(11.26,70.60) scale(0.97,1) skewX(0.5)">dBSPL</text>
<text transform="translate(25.00,106.12) scale(0.97,1) skewX(0.5)">0.0</text>
<text transform="translate(18.70,177.14) scale(0.97,1) skewX(0.5)">-10.0</text>
<text transform="translate(18.70,248.16) scale(0.97,1) skewX(0.5)">-20.0</text>
<text transform="translate(18.70,319.18) scale(0.97,1) skewX(0.5)">-30.0</text>
<text transform="translate(18.70,390.20) scale(0.97,1) skewX(0.5)">-40.0</text>
<text transform="translate(560.40,35.10) scale(0.97,1) skewX(0.5)">10.00</text>
<g fill="none" stroke="#333" stroke-width="0.9"><circle cx="561.7" cy="65.0" r="1.35"/><circle cx="566.3" cy="68.8" r="1.35"/><path d="M566.3 63.4L561.9 70.5"/></g>
<text transform="translate(559.80,106.12) scale(0.97,1) skewX(0.5)">8.00</text>
<text transform="translate(559.80,177.14) scale(0.97,1) skewX(0.5)">6.00</text>
<text transform="translate(559.80,248.16) scale(0.97,1) skewX(0.5)">4.00</text>
<text transform="translate(559.80,319.18) scale(0.97,1) skewX(0.5)">2.00</text>
<text transform="translate(559.80,390.20) scale(0.97,1) skewX(0.5)">0.00</text>
<text transform="translate(37.40,400.70) scale(0.97,1) skewX(0.5)">20</text>
<text transform="translate(242.24,400.70) scale(0.97,1) skewX(0.5)">50</text>
<text transform="translate(394.40,400.70) scale(0.97,1) skewX(0.5)">100</text>
<text transform="translate(453.40,400.70) scale(0.97,1) skewX(0.5)">Hz</text>
<text transform="translate(548.40,400.70) scale(0.97,1) skewX(0.5)">200</text>
<text transform="translate(61.10,416.50) scale(0.97,1) skewX(0.5)" letter-spacing="0.25">CH A</text>
<text transform="translate(91.00,416.50) scale(0.97,1) skewX(0.5)">dBSPL</text>
<text transform="translate(127.40,416.50) scale(0.97,1) skewX(0.5)">Resolution 1/6 Octave</text>
<text transform="translate(226.40,416.50) scale(0.97,1) skewX(0.5)">Unsmoothed</text>
<text transform="translate(287.10,416.50) scale(0.97,1) skewX(0.5)">48kHz</text>
<text transform="translate(321.50,416.50) scale(0.97,1) skewX(0.5)">Stepped</text>
<text transform="translate(366.00,416.50) scale(0.97,1) skewX(0.5)">Delay [ms] 0.000</text>
<text transform="translate(446.40,416.50) scale(0.97,1) skewX(0.5)">Dist Rise [dB] 30.00</text>
<text transform="translate(43.40,432.20) scale(0.97,1) skewX(0.5)">File: кни 84.sin</text>

<text transform="translate(521,43.1) scale(0.999,1)" letter-spacing="0.3" style="font-family:'Liberation Serif',serif;font-weight:bold;font-size:9.2px;fill:#111;stroke:#111;stroke-width:0.2px">CLIO</text>
</svg>
</body></html>
